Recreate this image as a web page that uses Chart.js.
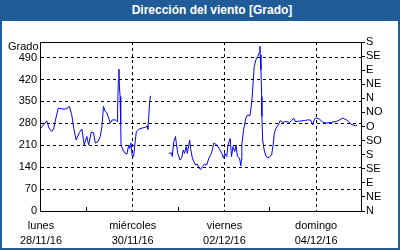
<!DOCTYPE html>
<html>
<head>
<meta charset="utf-8">
<script src="https://cdn.jsdelivr.net/npm/chart.js@4/dist/chart.umd.min.js"></script>
<style>
  html, body { margin: 0; padding: 0; background: #fff; }
  #wrap { position: relative; width: 400px; height: 250px; overflow: hidden;
          font-family: "Liberation Sans", Arial, sans-serif; }
  #windChart { position: absolute; left: 0; top: 0; }
  #band { position: absolute; left: 0; top: 0; width: 400px; height: 21px; background: #1f5c99;
          color: #fff; font-weight: bold; font-size: 12px; line-height: 21px; text-align: center;
          text-indent: 24px; }
  #frame { position: absolute; left: 0; top: 0; width: 400px; height: 250px; box-sizing: border-box;
           border: 2px solid #1f5c99; border-top: 0; pointer-events: none; }
  #unit { position: absolute; left: 8px; top: 40px; font-size: 11px; color: #000; }
</style>
</head>
<body>
<div id="wrap">
  <canvas id="windChart" width="400" height="250"></canvas>
  <div id="band">Dirección del viento [Grado]</div>
  <div id="frame"></div>
  <div id="unit">Grado</div>
</div>
<script>
// hours since lunes 28/11/16 00:00
const hours = [0, 1.3, 3.0, 4.2, 5.6, 6.6, 7.9, 9.1, 11.0, 13.1, 14.9, 16.1, 17.3, 18.4, 20.0, 21.4, 22.6, 24.0, 24.9, 26.3,
  27.5, 28.4, 29.8, 31.0, 31.9, 32.7, 33.6, 34.5, 35.4, 36.3, 37.2, 38.9, 39.8, 40.1, 40.5, 40.8, 41.0, 41.4, 41.7, 41.9,
  42.9, 44.1, 45.0, 45.9, 46.4, 47.1, 47.7, 48.5, 49.2, 49.9, 51.1, 52.9, 54.7, 55.5, 55.9, 56.4, 56.9, 57.3,
  62,
  66.9, 68.3, 68.7, 69.5, 70.4, 70.9, 71.6, 72.7, 73.6, 74.5, 75.1, 76.0, 76.6, 77.8, 78.3, 79.2, 80.0, 80.9, 81.8, 82.7,
  83.6, 84.5, 85.7, 86.7, 87.9, 89.2, 90.5, 92.0, 93.2, 94.6, 95.5, 96.2, 97.2, 97.9, 99.0, 99.7, 100.5, 101.4, 102.1, 102.8,
  103.9, 104.6, 104.9, 105.1, 106.0, 106.7, 107.2, 108.1, 109.3, 109.8, 110.4, 111.0, 111.6, 112.5, 113.4, 114.2, 114.6, 114.7, 115.1, 115.5,
  115.6, 116.0, 116.8, 117.7, 118.6, 119.8, 120.7, 121.5, 122.1, 123.0, 124.2, 125.2, 126.5, 128.2, 130.0, 131.2, 132.3, 133.0, 135.2, 137.8,
  139.6, 141.0, 142.3, 143.1, 144.0, 145.7, 147.5, 149.2, 151.9, 154.5, 156.2, 158.0, 159.8, 161.0, 162.0, 163.3, 164.5, 165.5];
const degrees = [265, 275, 288, 265, 254, 262, 300, 329, 326, 326, 334, 307, 259, 227, 250, 262, 211, 238, 211, 252,
  250, 217, 222, 238, 270, 334, 318, 313, 297, 281, 291, 291, 286, 323, 419, 453, 403, 366, 282, 211,
  195, 184, 182, 211, 200, 217, 176, 174, 217, 254, 261, 265, 268, 272, 261, 302, 350, 368,
  null,
  184, 186, 174, 222, 238, 211, 184, 163, 169, 195, 184, 206, 184, 227, 200, 169, 158, 147, 150, 137,
  133, 142, 150, 147, 169, 184, 217, 211, 200, 184, 169, 184, 174, 211, 232, 174, 206, 190, 211, 174,
  169, 144, 163, 211, 259, 281, 297, 307, 304, 323, 355, 409, 462, 483, 494, 505, 526, 499, 451, 366,
  302, 227, 195, 176, 169, 174, 179, 211, 248, 265, 275, 289, 283, 286, 283, 289, 297, 286, 287, 289,
  291, 291, 275, 294, 297, 294, 283, 281, 283, 286, 291, 297, 291, 286, 278, 275, 272, 275];

const dayTicks = [0, 24, 48, 72, 96, 120, 144, 168];
const dayNames = ['lunes', 'martes', 'miércoles', 'jueves', 'viernes', 'sábado', 'domingo', 'lunes'];
const dayDates = ['28/11/16', '29/11/16', '30/11/16', '01/12/16', '02/12/16', '03/12/16', '04/12/16', '05/12/16'];
const degreeTicks = [0, 70, 140, 210, 280, 350, 420, 490];
const compassTicks = [0, 45, 90, 135, 180, 225, 270, 315, 360, 405, 450, 495, 540];
const compassLabels = ['N', 'NE', 'E', 'SE', 'S', 'SO', 'O', 'NO', 'N', 'NE', 'E', 'SE', 'S'];

const font = { family: '"Liberation Sans", Arial, sans-serif', size: 11 };

// solid frame round the plot and the short ticks on the odd days
const framePlugin = {
    id: 'frame',
    afterDraw(chart) {
        const { ctx, chartArea: a } = chart;
        const x = chart.scales.x;
        ctx.save();
        ctx.strokeStyle = '#000';
        ctx.lineWidth = 1;
        ctx.strokeRect(Math.round(a.left) - 0.5, Math.round(a.top) + 0.5,
            Math.round(a.right) - Math.round(a.left), Math.round(a.bottom) - Math.round(a.top));
        ctx.beginPath();
        dayTicks.forEach(function (v, i) {
            if (i % 2 === 1) {
                const px = Math.round(x.getPixelForValue(v)) - 0.5;
                ctx.moveTo(px, Math.round(a.bottom));
                ctx.lineTo(px, Math.round(a.bottom) - 4);
            }
        });
        ctx.stroke();
        ctx.restore();
    }
};

new Chart(document.getElementById('windChart'), {
    type: 'line',
    data: {
        datasets: [{
            data: hours.map((h, i) => ({ x: h, y: degrees[i] })),
            borderColor: '#0000ff',
            borderWidth: 1,
            pointRadius: 0,
            tension: 0,
            spanGaps: false,
            yAxisID: 'y'
        }]
    },
    options: {
        responsive: false,
        animation: false,
        layout: { padding: { top: 42, left: 0, right: 0, bottom: 0 } },
        plugins: { legend: { display: false }, tooltip: { enabled: false } },
        scales: {
            x: {
                type: 'linear',
                min: 0,
                max: 168,
                afterBuildTicks: s => { s.ticks = dayTicks.map(v => ({ value: v })); },
                afterFit: s => { s.height = 39; },
                ticks: {
                    autoSkip: false,
                    maxRotation: 0,
                    padding: 8,
                    color: '#000',
                    font: { ...font, lineHeight: 1.35 },
                    callback: (v, i) => (i % 2 === 0 && i < 7) ? [dayNames[i], dayDates[i]] : ''
                },
                grid: {
                    drawTicks: false,
                    color: c => (c.index % 2 === 0 && c.index > 0 && c.index < 7) ? '#000' : 'rgba(0,0,0,0)'
                },
                border: { display: false, dash: [3, 3] }
            },
            y: {
                position: 'left',
                min: 0,
                max: 540,
                afterBuildTicks: s => { s.ticks = degreeTicks.map(v => ({ value: v })); },
                afterFit: s => { s.width = 41; },
                ticks: { autoSkip: false, padding: 4, color: '#000', font: font },
                grid: { drawTicks: false, color: c => c.index > 0 ? '#000' : 'rgba(0,0,0,0)' },
                border: { display: false, dash: [3, 3] }
            },
            y2: {
                position: 'right',
                min: 0,
                max: 540,
                afterBuildTicks: s => { s.ticks = compassTicks.map(v => ({ value: v })); },
                afterFit: s => { s.width = 38; },
                ticks: {
                    autoSkip: false,
                    padding: 1,
                    color: '#000',
                    font: font,
                    callback: (v, i) => compassLabels[i]
                },
                grid: { drawOnChartArea: false, tickLength: 3, color: '#000' },
                border: { display: false }
            }
        }
    },
    plugins: [framePlugin]
});
</script>
</body>
</html>
